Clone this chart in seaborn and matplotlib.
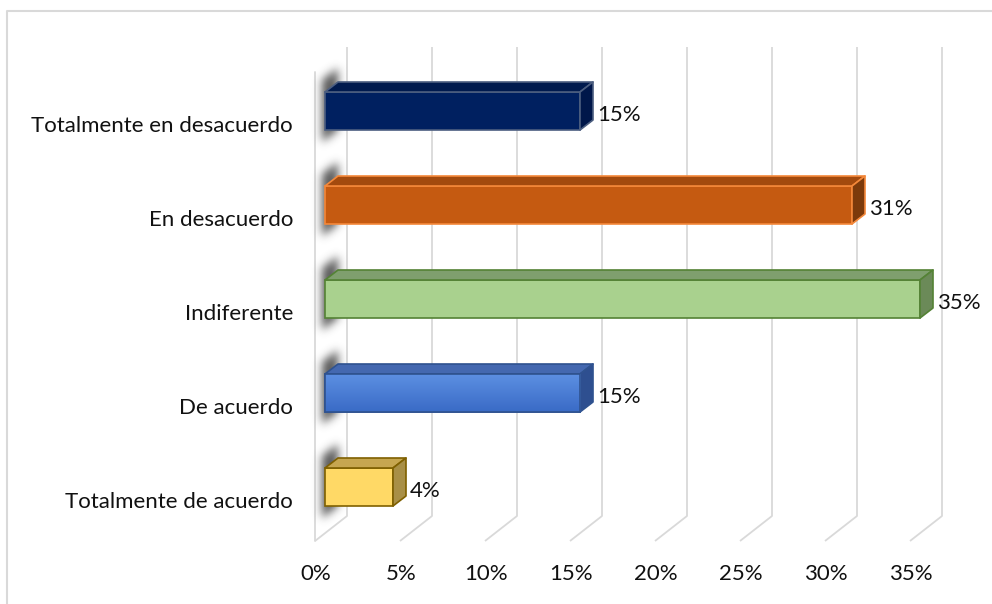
import numpy as np
import pandas as pd
import matplotlib
matplotlib.use("Agg")
import matplotlib.pyplot as plt
import seaborn as sns
from matplotlib.patches import Polygon, Rectangle
from matplotlib.colors import LinearSegmentedColormap

# ---------------- data ----------------
categories = ["Totalmente en desacuerdo", "En desacuerdo", "Indiferente",
              "De acuerdo", "Totalmente de acuerdo"]
values = [15, 31, 35, 15, 4]
value_labels = ["15%", "31%", "35%", "15%", "4%"]
tick_values = [0, 5, 10, 15, 20, 25, 30, 35]
tick_labels = ["0%", "5%", "10%", "15%", "20%", "25%", "30%", "35%"]

# ---------------- styles ----------------
front_colors = ["#002060", "#C55A11", "#A9D18E", "#4472C4", "#FFD966"]
edge_colors = ["#4C5E80", "#F4883A", "#548235", "#2F528F", "#7F6000"]
top_colors = ["#001A4E", "#A34A0E", "#7F9F6E", "#4468B0", "#C6A650"]
side_colors = ["#00174A", "#7C3A0B", "#6B8A58", "#2E4F90", "#A88F46"]
grid_color = "#D9D9D9"
text_color = "#111111"
FS = 16

sns.set_theme(style="white")
plt.rcParams["font.family"] = ["Lato", "DejaVu Sans"]

fig = plt.figure(figsize=(9.92, 6.04), dpi=100)
ax = fig.add_axes([0, 0, 1, 1])

# pixel <-> data mapping helpers (layout only)
X0P, SX = 325.0, 17.0
Y0P, SY = 111.0, 94.0
def px2x(px):
    return (px - X0P) / SX
def py2y(py):
    return (py - Y0P) / SY

DX = 13.0 / SX      # bar depth offset in x
DY = -10.0 / SY     # bar depth offset in y (upwards)

df = pd.DataFrame({"cat": categories, "val": values})
sns.barplot(data=df, y="cat", x="val", hue="cat", palette=front_colors,
            orient="h", width=38.0 / SY, ax=ax, legend=False,
            saturation=1, zorder=3)

# ---------------- walls / gridlines ----------------
back_top = py2y(47)
back_bot = py2y(516)
front_bot = py2y(541)
for v in tick_values:
    xb = v + px2x(347) - px2x(325)
    xf = v + px2x(315) - px2x(325)
    ax.plot([xb, xb, xf], [back_top, back_bot, front_bot], color=grid_color,
            lw=1.3, zorder=1, solid_capstyle="butt")
xf0 = px2x(315)
ax.plot([xf0, xf0], [py2y(72), front_bot], color=grid_color, lw=1.3, zorder=1)

# ---------------- soft shadows on the left wall ----------------
W0, W1, H0, H1 = 295, 365, 35, 565
xs = np.arange(W0, W1) + 0.5
ys = np.arange(H0, H1) + 0.5
XX, YY = np.meshgrid(xs, ys)
mask = np.zeros_like(XX)
patches = list(ax.patches)
for p in patches:
    top_px = Y0P + SY * p.get_y()
    bot_px = Y0P + SY * (p.get_y() + p.get_height())
    t = (XX - 322.0) / 16.0
    inside = (XX >= 322) & (XX <= 338) & \
             (YY >= top_px - 12 - t * 12) & (YY <= bot_px + 12 - t * 12)
    mask[inside] = 1.0
sig = 4.5
kx = np.arange(-15, 16)
kern = np.exp(-0.5 * (kx / sig) ** 2)
kern /= kern.sum()
blur = np.apply_along_axis(lambda r: np.convolve(r, kern, mode="same"), 1, mask)
blur = np.apply_along_axis(lambda c: np.convolve(c, kern, mode="same"), 0, blur)
rgba = np.zeros(blur.shape + (4,))
rgba[..., :3] = 0.22
rgba[..., 3] = 0.85 * blur
ax.imshow(rgba, extent=[px2x(W0), px2x(W1), py2y(H1), py2y(H0)],
          origin="upper", aspect="auto", zorder=2, interpolation="bilinear")

# ---------------- 3D bar faces ----------------
for i, p in enumerate(patches):
    p.set_edgecolor(edge_colors[i])
    p.set_linewidth(1.2)
    x0 = p.get_x()
    x1 = x0 + p.get_width()
    yt = p.get_y()
    yb = yt + p.get_height()
    top = Polygon([(x0, yt), (x0 + DX, yt + DY), (x1 + DX, yt + DY), (x1, yt)],
                  closed=True, facecolor=top_colors[i], edgecolor=edge_colors[i],
                  lw=1.2, zorder=3, joinstyle="round")
    side = Polygon([(x1, yt), (x1 + DX, yt + DY), (x1 + DX, yb + DY), (x1, yb)],
                   closed=True, facecolor=side_colors[i], edgecolor=edge_colors[i],
                   lw=1.2, zorder=3, joinstyle="round")
    ax.add_patch(top)
    ax.add_patch(side)
    if i == 3:  # gradient front of "De acuerdo"
        cmap = LinearSegmentedColormap.from_list("g", ["#5C8FE2", "#3A6BC6"])
        grad = np.linspace(0, 1, 64).reshape(-1, 1)
        im = ax.imshow(grad, cmap=cmap, extent=[x0, x1, yb, yt], origin="upper",
                       aspect="auto", zorder=3.05)
        im.set_clip_path(p)
        ax.add_patch(Rectangle((x0, yt), x1 - x0, yb - yt, facecolor="none",
                               edgecolor=edge_colors[i], lw=1.2, zorder=3.1))
    ax.text(x1 + DX + 4.0 / SX, (yt + yb) / 2 + 4.0 / SY, value_labels[i],
            ha="left", va="center", fontsize=FS, color=text_color, zorder=4)

# ---------------- category & tick labels ----------------
for i, c in enumerate(categories):
    ax.text(px2x(293), i + 15.0 / SY, c, ha="right", va="center", fontsize=FS,
            color=text_color)
for v, lab in zip(tick_values, tick_labels):
    ax.text(v + px2x(316) - px2x(325), py2y(574), lab, ha="center",
            va="center", fontsize=FS, color=text_color)

# ---------------- chart border ----------------
ax.plot([px2x(7), px2x(7), px2x(1000)], [py2y(620), py2y(11), py2y(11)],
        color=grid_color, lw=1.5, zorder=1)

ax.set_xlim(px2x(0), px2x(992))
ax.set_ylim(py2y(604), py2y(0))
ax.set_axis_off()

fig.savefig("out.png", dpi=100)
